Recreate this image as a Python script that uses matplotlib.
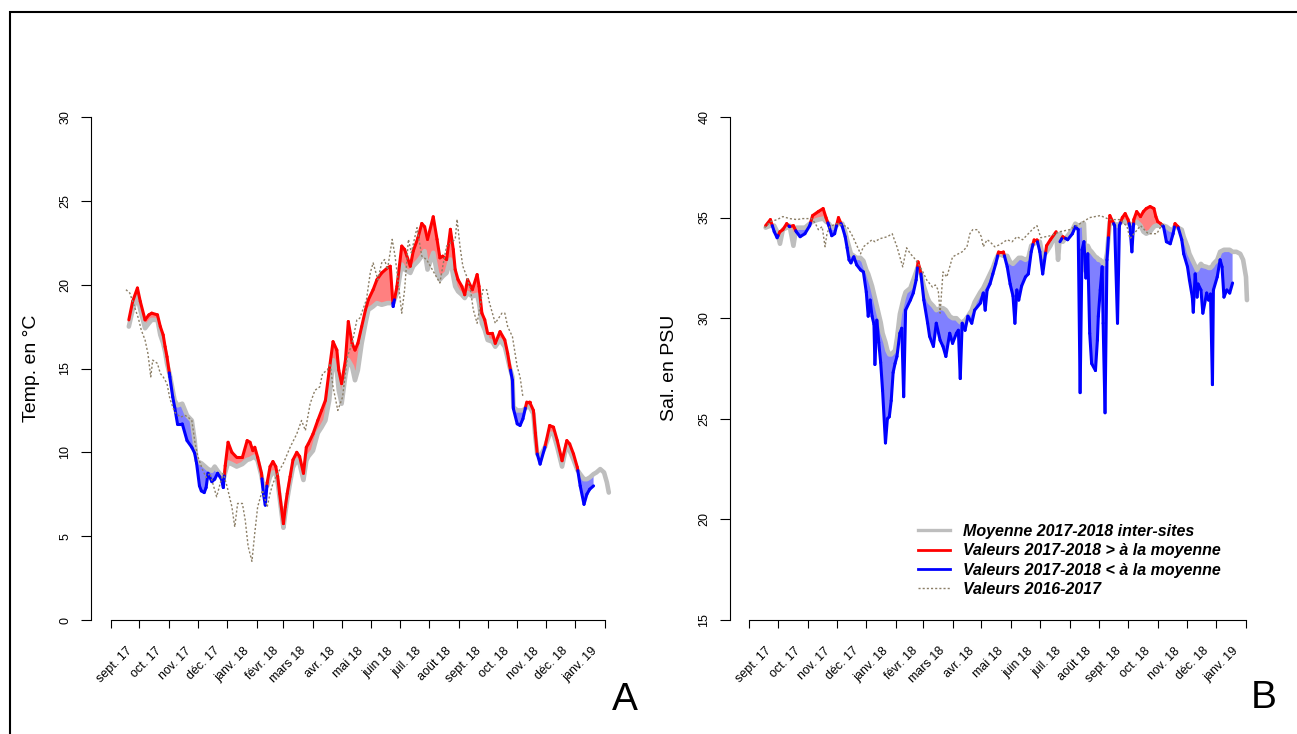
import numpy as np
import pandas as pd
import matplotlib
matplotlib.use('Agg')
import matplotlib.pyplot as plt
from matplotlib.collections import LineCollection
from matplotlib.lines import Line2D
from matplotlib.patches import Rectangle
from matplotlib.font_manager import FontProperties

plt.rcParams['font.family'] = ['Liberation Sans', 'DejaVu Sans']

W, H = 1297, 734

# x axis: days since 2017-09-01, one tick per month start
month_days = (pd.date_range('2017-09-01', '2019-02-01', freq='MS')
              - pd.Timestamp('2017-09-01')).days.values
month_labels = ['sept. 17', 'oct. 17', 'nov. 17', 'déc. 17', 'janv. 18', 'févr. 18',
                'mars 18', 'avr. 18', 'mai 18', 'juin 18', 'juil. 18', 'août 18',
                'sept. 18', 'oct. 18', 'nov. 18', 'déc. 18', 'janv. 19']

# ---- panel A : temperature ----
temp_day = [19, 23, 28, 31, 36, 40, 43, 49, 52, 55,
            57, 59, 62, 65, 67, 70, 75, 80, 85, 88,
            90, 93, 95, 98, 100, 102, 106, 109, 112, 116,
            118, 120, 123, 127, 132, 138, 143, 146, 149, 151,
            154, 158, 160, 162, 164, 167, 170, 173, 175, 177,
            181, 183, 185, 188, 191, 195, 198, 202, 205, 207,
            212, 217, 221, 225, 229, 233, 237, 239, 242, 246,
            249, 253, 256, 259, 263, 267, 270, 275, 279, 284,
            290, 293, 296, 300, 305, 308, 314, 317, 322, 326,
            329, 332, 338, 342, 345, 348, 352, 356, 359, 361,
            364, 368, 371, 374, 379, 384, 386, 389, 392, 395,
            400, 403, 408, 413, 416, 418, 421, 422, 426, 429,
            432, 436, 439, 443, 445, 447, 450, 455, 460, 464,
            468, 473, 478, 481, 485, 489, 492, 496, 499, 502,
            506, 509, 513, 517, 520, 522]
temp_val = [17.9, 19.0, 19.8, 19.0, 17.9, 18.2, 18.3, 18.2, 17.5, 17.0,
            16.3, 15.7, 14.5, 13.3, 12.7, 11.7, 11.7, 10.7, 10.3, 9.95,
            9.35, 8.0, 7.7, 7.6, 7.9, 8.75, 8.25, 8.4, 8.75, 8.4,
            7.9, 9.2, 10.6, 10.0, 9.7, 9.7, 10.7, 10.6, 10.1, 10.3,
            9.7, 8.75, 7.55, 6.85, 8.2, 9.15, 9.45, 9.15, 8.55, 7.55,
            5.75, 6.75, 7.55, 8.55, 9.55, 10.0, 9.75, 8.75, 10.3, 10.5,
            11.1, 11.9, 12.5, 13.1, 14.9, 16.6, 16.1, 14.9, 14.1, 15.5,
            17.8, 16.5, 16.1, 16.5, 17.5, 18.5, 19.1, 19.7, 20.3, 20.7,
            21.0, 21.1, 18.7, 19.9, 22.3, 22.1, 21.1, 22.0, 22.8, 23.65,
            23.45, 22.7, 24.05, 22.7, 21.6, 21.7, 21.5, 23.3, 22.1, 20.9,
            20.3, 19.9, 19.4, 20.3, 19.7, 20.6, 19.9, 18.3, 17.9, 17.1,
            17.1, 16.5, 17.2, 16.7, 15.9, 15.2, 14.3, 12.6, 11.7, 11.6,
            12.0, 13.0, 13.0, 12.5, 11.15, 9.9, 9.3, 10.3, 11.6, 11.5,
            10.7, 9.5, 10.7, 10.5, 9.9, 9.1, 8.0, 6.9, 7.5, 7.8,
            8.0, np.nan, np.nan, np.nan, np.nan, np.nan]
temp_moy = [17.5, 18.5, 19.3, 18.5, 17.4, 17.7, 17.9, 17.9, 17.0, 16.5,
            16.0, 15.3, 14.6, 13.7, 13.1, 12.8, 12.9, 12.2, 11.9, 10.7,
            9.5, 9.4, 9.35, 9.2, 9.1, 9.0, 8.9, 9.15, 8.9, 8.6,
            8.35, 8.8, 9.4, 9.3, 9.15, 9.3, 9.55, 9.6, 9.7, 9.75,
            9.5, 8.6, 7.95, 7.9, 8.0, 8.55, 8.8, 8.75, 8.2, 7.3,
            5.5, 6.4, 7.2, 8.2, 9.1, 9.55, 9.3, 8.35, 9.5, 9.75,
            10.1, 11.15, 11.5, 11.9, 13.1, 15.5, 14.8, 13.7, 12.9, 14.6,
            15.5, 15.1, 14.3, 14.9, 16.5, 17.7, 18.5, 18.7, 18.9, 18.8,
            18.9, 18.9, 18.9, 19.5, 21.2, 20.9, 20.7, 21.1, 21.4, 21.7,
            22.0, 20.9, 21.9, 20.7, 20.3, 20.5, 20.7, 21.5, 20.5, 19.9,
            19.6, 19.4, 19.2, 19.5, 19.3, 19.4, 18.9, 17.7, 17.3, 16.7,
            16.6, 16.3, 16.7, 16.3, 15.6, 15.1, 14.5, 12.7, 12.5, 12.5,
            12.5, 12.7, 12.7, 12.3, 10.9, 9.9, 9.75, 10.3, 11.1, 11.1,
            10.3, 9.15, 10.5, 10.1, 9.55, 8.95, 8.7, 8.4, 8.4, 8.5,
            8.7, 8.8, 9.0, 8.8, 8.2, 7.6]
temp_prev_day = [16, 20, 23, 29, 32, 36, 39, 42, 44, 49,
                 52, 55, 59, 62, 67, 73, 78, 81, 85, 88,
                 91, 96, 100, 104, 111, 115, 118, 122, 127, 130,
                 133, 138, 141, 144, 148, 151, 154, 159, 164, 167,
                 170, 175, 181, 188, 195, 200, 204, 209, 214, 219,
                 222, 227, 230, 233, 238, 243, 248, 253, 258, 261,
                 268, 272, 275, 280, 284, 287, 290, 295, 298, 301,
                 305, 308, 312, 315, 321, 326, 331, 337, 345, 348,
                 352, 361, 363, 366, 369, 373, 377, 380, 384, 390,
                 394, 397, 403, 410, 413, 416, 421, 426, 429, 432]
temp_prev = [19.7, 19.5, 19.0, 18.0, 17.3, 16.7, 15.9, 14.5, 15.5, 15.3,
             14.7, 14.5, 14.1, 13.2, 12.4, 12.1, 12.2, 12.1, 11.9, 10.7,
             9.8, 9.0, 8.5, 8.75, 7.35, 8.2, 8.75, 7.95, 6.75, 5.55,
             6.95, 6.95, 5.95, 4.4, 3.5, 5.2, 6.75, 7.75, 6.75, 7.55,
             8.15, 8.75, 9.35, 10.3, 11.1, 11.9, 11.3, 12.9, 13.7, 13.9,
             14.7, 14.9, 15.3, 13.9, 12.5, 13.3, 15.7, 16.5, 17.9, 18.0,
             19.1, 20.7, 21.3, 20.3, 21.3, 21.5, 20.9, 22.7, 21.7, 20.3,
             18.3, 19.7, 22.7, 21.9, 23.4, 21.7, 21.5, 20.9, 20.1, 21.1,
             22.3, 22.7, 23.9, 22.3, 21.1, 20.5, 19.7, 18.5, 17.7, 19.7,
             19.7, 18.9, 17.7, 18.3, 18.3, 17.5, 16.9, 15.1, 14.5, 13.3]

# ---- panel B : salinity ----
sal_day = [17, 22, 26, 29, 32, 35, 39, 42, 46, 49,
           53, 58, 63, 66, 72, 77, 80, 83, 86, 89,
           93, 97, 100, 102, 104, 106, 109, 112, 116, 119,
           122, 124, 126, 128, 130, 131, 133, 135, 137, 139,
           142, 144, 146, 148, 150, 152, 154, 157, 159, 161,
           163, 168, 171, 174, 176, 179, 182, 186, 188, 192,
           195, 199, 202, 205, 209, 212, 216, 218, 220, 222,
           225, 228, 232, 235, 241, 244, 246, 248, 251, 254,
           257, 260, 265, 269, 272, 275, 277, 279, 281, 284,
           288, 291, 294, 297, 300, 303, 306, 310, 314, 320,
           322, 324, 327, 332, 337, 340, 343, 345, 347, 349,
           351, 353, 355, 357, 361, 363, 364, 366, 368, 369,
           371, 373, 376, 379, 381, 384, 386, 389, 392, 395,
           397, 399, 401, 404, 408, 411, 414, 418, 422, 424,
           426, 429, 432, 435, 439, 442, 444, 447, 451, 453,
           457, 459, 462, 463, 465, 467, 468, 471, 473, 477,
           479, 481, 483, 484, 488, 491, 493, 495, 498, 501,
           504, 508, 512, 515, 518, 519]
sal_val = [34.6, 34.9, 34.3, 34.0, 34.3, 34.4, 34.7, 34.55, 34.6, 34.3,
           34.05, 34.2, 34.6, 35.1, 35.3, 35.45, 35.0, 34.6, 34.1, 34.2,
           35.0, 34.55, 34.05, 33.5, 32.9, 32.75, 33.05, 32.65, 32.4, 32.3,
           31.3, 30.1, 30.9, 30.1, 29.7, 27.7, 29.9, 28.8, 27.8, 26.4,
           23.8, 25.0, 25.1, 25.9, 27.3, 27.75, 28.1, 29.25, 29.5, 26.1,
           30.4, 30.9, 31.25, 31.9, 32.8, 32.2, 30.9, 29.75, 29.1, 28.6,
           29.75, 28.9, 28.6, 28.1, 29.25, 28.75, 29.25, 29.4, 27.0, 29.75,
           29.4, 30.1, 29.75, 30.4, 30.75, 31.25, 30.4, 31.4, 31.7, 32.2,
           32.7, 33.3, 33.3, 32.55, 31.7, 31.1, 29.75, 31.4, 30.9, 31.6,
           32.05, 32.2, 33.3, 33.9, 33.9, 33.3, 32.2, 33.6, 33.9, 34.3,
           np.nan, 33.8, 34.05, 33.9, 34.2, 34.55, 34.4, 26.3, 33.4, 33.8,
           32.0, 33.2, 29.25, 27.75, 27.4, 28.9, 30.1, 31.4, 32.55, 29.75,
           25.3, 32.9, 35.1, 34.8, 34.6, 29.75, 34.6, 35.0, 35.2, 34.9,
           34.55, 33.3, 34.9, 35.3, 35.05, 35.3, 35.45, 35.55, 35.45, 35.05,
           34.8, 34.7, 34.55, 33.8, 33.7, 34.2, 34.7, 34.55, 33.9, 33.2,
           32.55, 31.9, 31.05, 30.3, 32.2, 31.05, 31.7, 31.4, 30.25, 31.25,
           30.9, 31.2, 26.7, 31.4, 32.05, 32.9, 32.55, 31.05, 31.4, 31.25,
           31.75, np.nan, np.nan, np.nan, np.nan, np.nan]
sal_moy = [34.5, 34.6, 34.6, 34.3, 33.7, 34.4, 34.5, 34.6, 33.6, 34.5,
           34.5, 34.5, 34.7, 34.8, 34.9, 34.95, 34.8, 34.7, 34.5, 34.5,
           34.7, 34.7, 34.3, 33.9, 33.55, 33.2, 33.1, 33.0, 33.0, 32.85,
           32.4, 32.2, 31.9, 31.6, 31.2, 31.0, 30.6, 30.2, 29.8, 29.25,
           28.8, 28.4, 28.2, 28.2, 28.3, 28.4, 29.0, 30.2, 30.6, 31.0,
           31.3, 31.5, 31.9, 32.3, 32.6, 32.2, 31.6, 31.0, 30.8, 30.6,
           30.4, 30.5, 30.5, 30.4, 30.1, 30.0, 30.0, 29.9, 29.8, 29.8,
           29.9, 30.1, 30.4, 30.8, 31.3, 31.5, 31.7, 31.9, 32.2, 32.5,
           32.9, 33.2, 33.1, 33.1, 32.8, 32.7, 32.8, 32.9, 33.0, 33.0,
           32.9, 33.0, 33.6, 33.7, 33.8, 33.8, 33.05, 33.3, 33.6, 34.2,
           32.9, 34.2, 33.8, 34.1, 34.4, 34.7, 34.6, 34.6, 34.7, 34.7,
           32.3, 33.6, 33.4, 33.3, 33.05, 33.0, 32.9, 32.9, 32.8, 32.7,
           32.7, 33.2, 34.8, 34.7, 34.7, 34.6, 34.7, 34.8, 34.8, 34.7,
           34.7, 34.6, 34.7, 34.8, 34.6, 34.3, 34.2, 34.3, 34.55, 34.6,
           34.6, 34.6, 34.6, 34.55, 34.4, 34.4, 34.6, 34.5, 34.4, 34.05,
           33.55, 33.2, 32.9, 32.8, 32.6, 32.4, 32.5, 32.7, 32.6, 32.55,
           32.5, 32.5, 32.6, 32.7, 32.9, 33.3, 33.35, 33.4, 33.4, 33.4,
           33.3, 33.3, 33.2, 32.9, 32.05, 30.9]
sal_prev_day = [16, 22, 29, 35, 42, 50, 55, 60, 65, 69,
                72, 76, 79, 81, 84, 91, 102, 108, 116, 119,
                123, 128, 131, 136, 144, 149, 154, 157, 160, 164,
                168, 171, 175, 180, 185, 191, 194, 197, 199, 202,
                206, 209, 212, 218, 222, 227, 230, 233, 238, 242,
                244, 248, 251, 256, 261, 269, 274, 279, 285, 291,
                296, 300, 304, 314, 324, 334, 345, 355, 366, 376,
                387, 394, 397, 408, 416, 425, 431]
sal_prev = [34.5, 34.8, 34.9, 35.05, 34.95, 34.9, 34.95, 34.95, 34.95, 34.7,
            34.4, 34.55, 33.55, 34.2, 34.55, 34.7, 34.55, 34.05, 33.2, 33.55,
            33.7, 33.9, 33.8, 33.95, 34.05, 34.2, 33.55, 33.05, 32.55, 33.5,
            33.2, 33.05, 32.8, 32.4, 31.9, 31.55, 31.65, 31.4, 30.25, 32.3,
            32.05, 32.55, 33.05, 33.2, 33.3, 33.55, 34.2, 34.4, 34.4, 34.05,
            33.55, 33.9, 33.8, 33.55, 33.65, 33.9, 33.8, 34.05, 33.9, 34.2,
            34.45, 34.6, 34.0, 34.1, 34.3, 34.4, 34.7, 35.0, 35.1, 34.9,
            34.9, 34.55, 33.95, 34.6, 34.2, 34.2, 34.7]

legend_labels = ['Moyenne 2017-2018 inter-sites', 'Valeurs 2017-2018 > à la moyenne',
                 'Valeurs 2017-2018 < à la moyenne', 'Valeurs 2016-2017']

GREY = '#BEBEBE'
PREV = '#8B7E66'


def split_segments(x, v, m):
    # cut the value line where it crosses the mean so each part gets its colour
    above, below = [], []
    for i in range(len(x) - 1):
        if np.isnan(v[i]) or np.isnan(v[i + 1]):
            continue
        d0 = v[i] - m[i]
        d1 = v[i + 1] - m[i + 1]
        p0 = (x[i], v[i])
        p1 = (x[i + 1], v[i + 1])
        if d0 * d1 < 0:
            f = d0 / (d0 - d1)
            pc = (x[i] + f * (x[i + 1] - x[i]), v[i] + f * (v[i + 1] - v[i]))
            (above if d0 > 0 else below).append([p0, pc])
            (above if d1 > 0 else below).append([pc, p1])
        else:
            (above if d0 + d1 >= 0 else below).append([p0, p1])
    return above, below


def draw_panel(ax, day, val, moy, prev_day, prev, ylo, yhi, tick0_px, px_per_day, left_px, right_px):
    day = np.asarray(day, float)
    val = np.asarray(val, float)
    moy = np.asarray(moy, float)
    ok = ~np.isnan(val)
    ax.fill_between(day, moy, val, where=ok & (val >= moy), interpolate=True,
                    color='#FF8080', lw=0, zorder=1)
    ax.fill_between(day, moy, val, where=ok & (val < moy), interpolate=True,
                    color='#8080FF', lw=0, zorder=1)
    ax.plot(day, moy, color=GREY, lw=3.3, solid_capstyle='round',
            solid_joinstyle='round', zorder=2)
    above, below = split_segments(day, val, moy)
    ax.add_collection(LineCollection(above, colors='#FF0000', linewidths=2.2,
                                     capstyle='round', joinstyle='round', zorder=3))
    ax.add_collection(LineCollection(below, colors='#0000FF', linewidths=2.2,
                                     capstyle='round', joinstyle='round', zorder=3))
    ax.plot(prev_day, prev, color=PREV, lw=1.0, ls=(0, (1.5, 1.5)), zorder=4)

    ax.set_xlim(-(tick0_px - left_px) / px_per_day, (right_px - tick0_px) / px_per_day)
    ax.set_ylim(ylo, yhi)
    for s in ['top', 'right']:
        ax.spines[s].set_visible(False)
    ax.spines['left'].set_bounds(ylo, yhi)
    ax.spines['bottom'].set_bounds(month_days[0], month_days[-1])
    for s in ['left', 'bottom']:
        ax.spines[s].set_linewidth(0.8)

    ax.set_yticks(np.arange(ylo, yhi + 1, 5))
    ax.tick_params(axis='y', direction='out', length=7, width=0.8, pad=7,
                   labelsize=9, labelrotation=90)
    for lab in ax.get_yticklabels():
        lab.set_va('center')

    ax.set_xticks(month_days)
    ax.set_xticklabels([''] * len(month_days))
    ax.set_xticks(month_days[:-1] + 21, minor=True)
    ax.set_xticklabels(month_labels, minor=True, rotation=45, ha='right',
                       va='center', rotation_mode='anchor', fontsize=9)
    ax.tick_params(axis='x', which='major', direction='out', length=6, width=0.8)
    ax.tick_params(axis='x', which='minor', length=0, pad=21)


fig = plt.figure(figsize=(W / 100, H / 100), dpi=100)

# panel A: y axis at x=91 px, first month tick at 110.7 px
ax_a = fig.add_axes([91 / W, 1 - 620 / H, (625 - 91) / W, (620 - 117) / H])
draw_panel(ax_a, temp_day, temp_val, temp_moy, temp_prev_day, temp_prev,
           0, 30, 110.7, (605 - 110.7) / 518, 91, 625)

# panel B: y axis at x=730 px, first month tick at 749.3 px
ax_b = fig.add_axes([730 / W, 1 - 620 / H, (1265 - 730) / W, (620 - 117) / H])
draw_panel(ax_b, sal_day, sal_val, sal_moy, sal_prev_day, sal_prev,
           15, 40, 749.3, (1246 - 749.3) / 518, 730, 1265)

fig.text(31 / W, 1 - 368 / H, 'Temp. en °C', rotation=90, fontsize=14,
         ha='center', va='center')
fig.text(670 / W, 1 - 368 / H, 'Sal. en PSU', rotation=90, fontsize=14,
         ha='center', va='center')
fig.text(625 / W, 1 - 700 / H, 'A', fontsize=28, ha='center', va='center')
fig.text(1264 / W, 1 - 698 / H, 'B', fontsize=28, ha='center', va='center')

handles = [Line2D([], [], color=GREY, lw=2.4),
           Line2D([], [], color='#FF0000', lw=2.0),
           Line2D([], [], color='#0000FF', lw=2.0),
           Line2D([], [], color=PREV, lw=1.0, ls=(0, (1.5, 1.5)))]
ax_b.legend(handles, legend_labels, loc='upper left',
            bbox_to_anchor=(918 / W, 1 - 524 / H), bbox_transform=fig.transFigure,
            frameon=False, borderpad=0, borderaxespad=0, handlelength=2.0,
            handletextpad=0.8, labelspacing=0.27,
            prop=FontProperties(family='Liberation Sans', weight='bold',
                                style='italic', size=11.5))

fig.add_artist(Rectangle((10 / W, -0.1), 2, 1.1 - 12 / H, transform=fig.transFigure,
                         fill=False, lw=1.5, ec='black'))

fig.savefig('out.png', dpi=100)
